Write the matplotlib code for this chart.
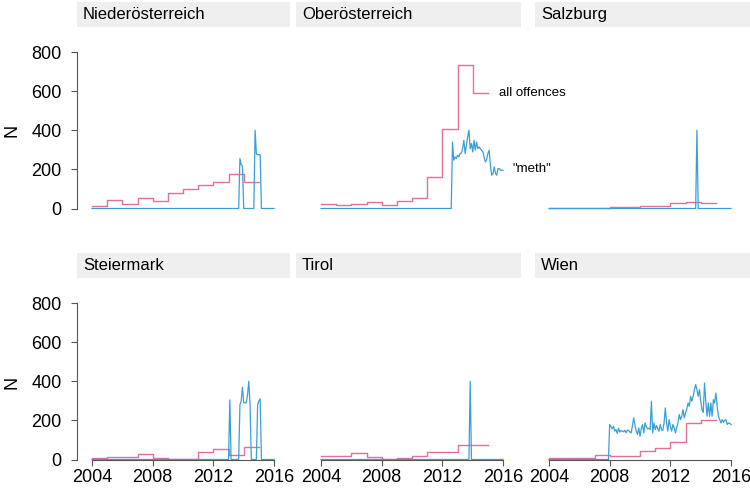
import matplotlib
matplotlib.use("Agg")
import matplotlib.pyplot as plt
import numpy as np

plt.rcParams['font.family'] = ['Liberation Sans', 'DejaVu Sans']

states = ["Niederösterreich", "Oberösterreich", "Salzburg",
          "Steiermark", "Tirol", "Wien"]
years = [2004, 2005, 2006, 2007, 2008, 2009, 2010, 2011, 2012, 2013, 2014]

# all offences, yearly level
offences_noe = [12, 46, 24, 56, 36, 77, 100, 121, 138, 175, 134]
offences_ooe = [24, 20, 25, 31, 17, 39, 53, 163, 405, 734, 593]
offences_sbg = [5, 2, 2, 2, 6, 6, 15, 15, 29, 32, 27]
offences_stmk = [8, 14, 14, 26, 7, 3, 3, 37, 54, 25, 66]
offences_tirol = [17, 17, 31, 14, 5, 8, 19, 39, 39, 75, 75]
offences_wien = [10, 10, 7, 24, 19, 19, 46, 60, 90, 187, 204]

# "meth" mentions, monthly from Jan 2004 to Jan 2016
meth_noe = [0] * 117 + [255, 225, 215] + [0] * 9 + [400, 280, 275, 275, 275] + [0] * 11
meth_ooe = [0] * 104 + [340, 247, 264, 255, 272, 264, 281, 284, 306, 349, 281, 323, 366, 400,
                        306, 332, 289, 349, 298, 340, 306, 315, 306, 298, 289, 264, 238, 250,
                        281, 298, 221, 170, 179, 213, 179, 170, 204, 204, 196, 196, 195]
meth_sbg = [0] * 117 + [400] + [0] * 27
meth_stmk = ([0] * 109 + [305] + [0] * 7 + [280, 300, 370, 290, 290, 290, 330, 400, 280]
             + [0] * 5 + [280, 300, 310] + [0] * 11)
meth_tirol = [0] * 118 + [400] + [0] * 26
meth_wien = [0] * 48 + [179, 167, 157, 170, 145, 153, 133, 160, 140, 148, 145, 141, 150, 136,
                        150, 148, 140, 136, 174, 213, 175, 145, 128, 162, 119, 160, 179, 136,
                        187, 167, 157, 160, 153, 298, 136, 187, 153, 174, 157, 145, 179, 153,
                        148, 187, 264,
                        187, 145, 204, 170, 145, 179, 162, 136, 165, 187, 230, 204, 221, 255,
                        213, 238, 260, 289, 272, 323, 298, 323, 357, 383, 357, 323, 357, 298,
                        255, 240, 391, 298, 221, 289, 221, 289, 221, 306, 289, 340, 272, 221,
                        204, 187, 204, 190, 200, 204, 179, 187, 184, 179]

offences = [offences_noe, offences_ooe, offences_sbg, offences_stmk, offences_tirol, offences_wien]
meth = [meth_noe, meth_ooe, meth_sbg, meth_stmk, meth_tirol, meth_wien]

PINK = "#e2709c"
BLUE = "#3a9fd6"
AXC = "#555555"

W, H = 750, 488
fig = plt.figure(figsize=(W / 100, H / 100), dpi=100)

lefts = [77, 306, 534]
strip_x = [(77, 290), (296, 521), (535, 750)]
tops = [27, 278]
pw, ph = 213, 181.5

for i, name in enumerate(states):
    r, c = divmod(i, 3)
    x0 = lefts[c]
    y0 = tops[r]
    ax = fig.add_axes([x0 / W, (H - y0 - ph) / H, pw / W, ph / H])
    ax.patch.set_alpha(0)
    # strip
    sx0, sx1 = strip_x[c]
    sax = fig.add_axes([sx0 / W, (H - y0) / H, (sx1 - sx0) / W, 25 / H])
    sax.set_facecolor("#efefef")
    sax.set_xticks([])
    sax.set_yticks([])
    for s in sax.spines.values():
        s.set_visible(False)
    sax.text(6 / (sx1 - sx0), 0.5, name, fontsize=12, va="center", ha="left",
             transform=sax.transAxes)

    yr_edges = years + [years[-1] + 1]
    vals = offences[i] + [offences[i][-1]]
    ax.step(yr_edges, vals, where="post", color=PINK, lw=1.0, clip_on=False, zorder=2)
    months = 2004 + np.arange(len(meth[i])) / 12
    ax.plot(months, meth[i], color=BLUE, lw=0.9, clip_on=False, zorder=2)

    ax.set_xlim(2003.011, 2017.05)
    ax.set_ylim(0, 928)
    ax.spines["top"].set_visible(False)
    ax.spines["right"].set_visible(False)
    ax.spines["left"].set_color(AXC)
    ax.spines["bottom"].set_color(AXC)
    ax.spines["left"].set_bounds(0, 800)
    ax.spines["bottom"].set_bounds(2004, 2016)
    ax.tick_params(colors=AXC, labelcolor="black", labelsize=13, length=4, width=0.8)
    ax.tick_params(axis="y", pad=7)
    ax.tick_params(axis="x", pad=3)
    ax.set_xticks([2004, 2008, 2012, 2016])
    ax.set_yticks([0, 200, 400, 600, 800])
    if c != 0:
        ax.spines["left"].set_visible(False)
        ax.tick_params(axis="y", left=False, labelleft=False)
    if r == 0:
        ax.spines["bottom"].set_visible(False)
        ax.tick_params(axis="x", bottom=False, labelbottom=False)
    if name == "Oberösterreich":
        ax.text(2015.7, offences[i][-1], "all offences", fontsize=9.5, va="center",
                ha="left", zorder=5)
        ax.text(2016.6, meth[i][-1] + 5, '"meth"', fontsize=9.5, va="center",
                ha="left", zorder=5)

for yc in [130, 382]:
    fig.text(12 / W, 1 - yc / H, "N", rotation=90, fontsize=13, va="center", ha="center")

fig.savefig("out.png", dpi=100)
